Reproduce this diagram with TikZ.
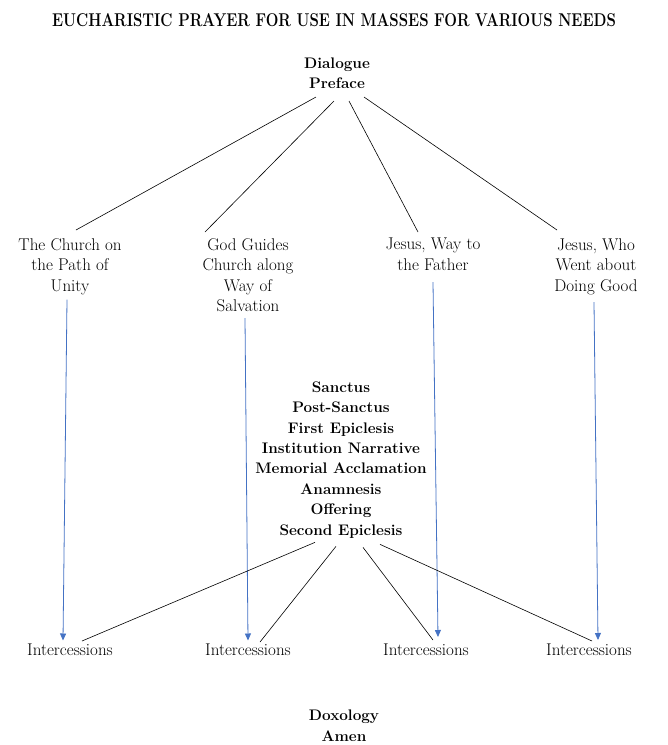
\documentclass[tikz,border=0pt]{standalone}
\usepackage{graphicx}
\usepackage{fontspec}
\usetikzlibrary{calc,arrows.meta}
\definecolor{arrowblue}{RGB}{68,114,196}

\begin{document}
\begin{tikzpicture}[x=1pt,y=-1pt,
		txt/.style={inner sep=0pt,anchor=north,align=center,font=\fontsize{17}{20.5}\selectfont},
		bold/.style={inner sep=0pt,anchor=north,align=center,font=\fontsize{15.3}{20.4}\selectfont\bfseries},
		fan/.style={line width=0.6pt,color=black},
		down/.style={line width=0.8pt,color=arrowblue,-{Triangle[length=7pt,width=6pt]}}]
			%%%%% START %%%%%
			\useasboundingbox (0,0) rectangle (668,745);
			
			\node[bold,anchor=center,font=\fontsize{18.5}{20}\selectfont\bfseries] (title) at (334,20) {\scalebox{0.81}[1]{EUCHARISTIC PRAYER FOR USE IN MASSES FOR VARIOUS NEEDS}};
			\node[bold] (dia) at (337,57.5) {Dialogue\\Preface};
			
			\node[txt] (church) at (70,238) {The Church on\\the Path of\\Unity};
			\node[txt] (god) at (248,238) {God Guides\\Church along\\Way of\\Salvation};
			\node[txt] (way) at (433,238) {Jesus, Way to\\the Father};
			\node[txt] (who) at (596,238) {Jesus, Who\\Went about\\Doing Good};
			
			\node[bold] (mid) at (341,381.5) {Sanctus\\Post-Sanctus\\First Epiclesis\\Institution Narrative\\Memorial Acclamation\\Anamnesis\\Offering\\Second Epiclesis};
			
			\node[txt] (int1) at (70,643.5) {Intercessions};
			\node[txt] (int2) at (248,643.5) {Intercessions};
			\node[txt] (int3) at (426,643.5) {Intercessions};
			\node[txt] (int4) at (589,643.5) {Intercessions};
			
			\node[bold] (dox) at (344,710) {Doxology\\Amen};
			
			% top fan
			\draw[fan] ($(dia.south)+(-21,8)$) -- ($(church.north)+(6,-8)$);
			\draw[fan] ($(dia.south)+(-3,12)$) -- ($(god.north)+(-43,-6)$);
			\draw[fan] ($(dia.south)+(12,12)$) -- ($(way.north)+(-15,-6)$);
			\draw[fan] ($(dia.south)+(27,8)$) -- ($(who.north)+(-39,-8)$);
			
			% blue arrows
			\draw[down] ($(church.south)+(-3,5)$) -- ($(int1.north)+(-7,-3)$);
			\draw[down] ($(god.south)+(-3,6)$) -- ($(int2.north)+(0,-3)$);
			\draw[down] ($(way.south)+(0,11.5)$) -- ($(int3.north)+(12,-6.5)$);
			\draw[down] ($(who.south)+(-2,7.5)$) -- ($(int4.north)+(9,-3.5)$);
			
			% bottom fan
			\draw[fan] ($(mid.south)+(-26,4)$) -- ($(int1.north)+(12,-2.5)$);
			\draw[fan] ($(mid.south)+(-5,8)$) -- ($(int2.north)+(12,-1.5)$);
			\draw[fan] ($(mid.south)+(22,9)$) -- ($(int3.north)+(7,-3.5)$);
			\draw[fan] ($(mid.south)+(39,6)$) -- ($(int4.north)+(3,-2.5)$);
			
			%%%%% END %%%%%
		\end{tikzpicture}
\end{document}
